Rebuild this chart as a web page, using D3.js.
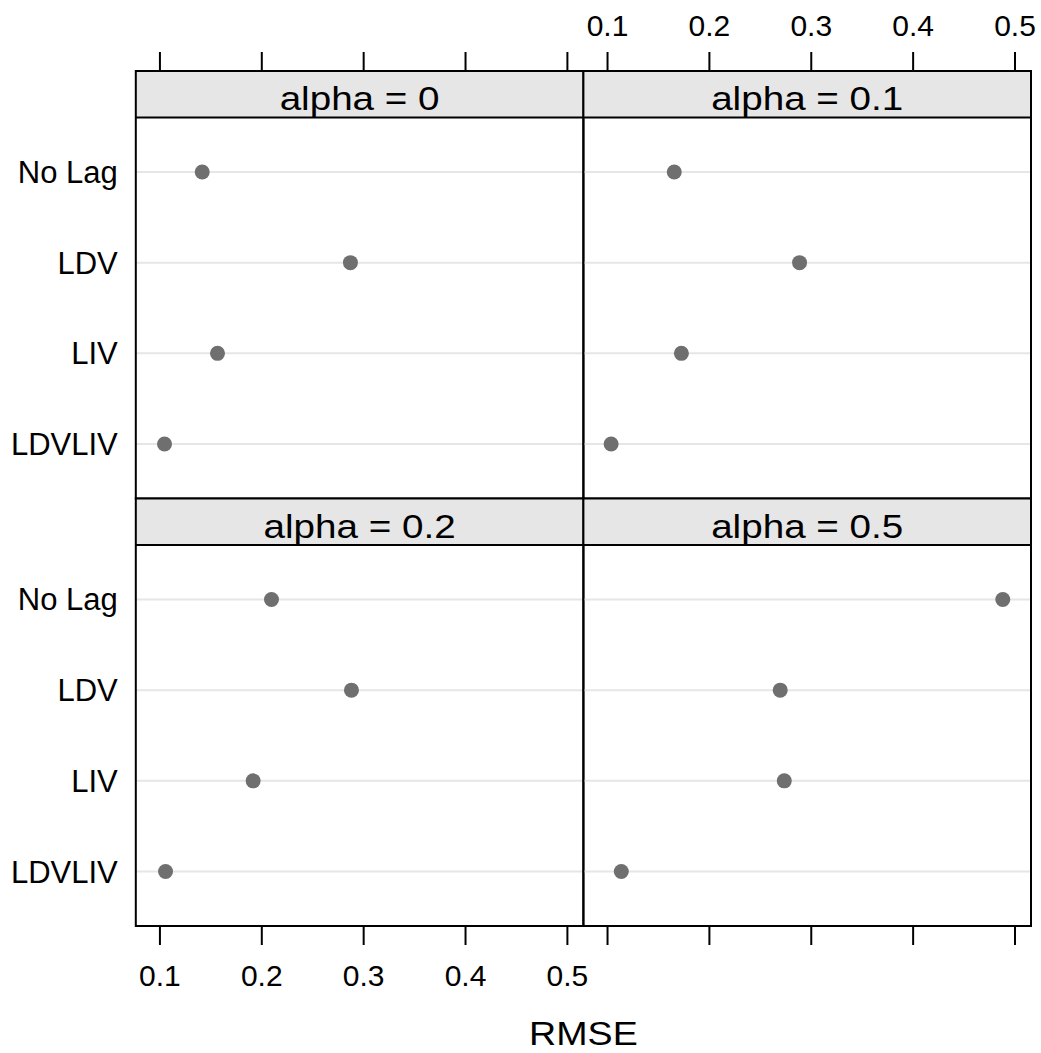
<!DOCTYPE html>
<html>
<head>
<meta charset="utf-8">
<script src="https://cdn.jsdelivr.net/npm/d3@7"></script>
<style>
  body { margin: 0; background: #fff; }
  text { font-family: "Liberation Sans", Arial, sans-serif; fill: #000; }
</style>
</head>
<body>
<script>
const W = 1041, H = 1053

// data
const methods = ['No Lag', 'LDV', 'LIV', 'LDVLIV']
const alphas = ['alpha = 0', 'alpha = 0.1', 'alpha = 0.2', 'alpha = 0.5']
const rmseA0 = [0.142, 0.2875, 0.157, 0.105]
const rmseA01 = [0.166, 0.289, 0.173, 0.104]
const rmseA02 = [0.210, 0.2885, 0.192, 0.106]
const rmseA05 = [0.4885, 0.270, 0.274, 0.114]
const xTicks = [0.1, 0.2, 0.3, 0.4, 0.5]

const series = [rmseA0, rmseA01, rmseA02, rmseA05]

const m = {
    left: 135.8,
    top: 71,
    panelW: 447.6,
    stripH: 46.5,
    bodyH: 381,
    tick: 19
}
const rowH = m.stripH + m.bodyH

const svg = d3.select('body').append('svg')
    .attr('width', W)
    .attr('height', H)

const x = d3.scaleLinear()
    .domain([0.0768, 0.5162])
    .range([0, m.panelW])

const y = d3.scalePoint()
    .domain(methods)
    .range([0, m.bodyH])
    .padding(0.6)

alphas.forEach((label, i) => {
    const col = i % 2, row = Math.floor(i / 2)
    const px = m.left + col * m.panelW
    const py = m.top + row * rowH

    const g = svg.append('g').attr('transform', `translate(${px},${py})`)

    // strip
    g.append('rect')
        .attr('width', m.panelW)
        .attr('height', m.stripH)
        .attr('fill', '#e6e6e6')
    g.append('text')
        .attr('transform', `translate(${m.panelW / 2},39) scale(1.17,1)`)
        .attr('text-anchor', 'middle')
        .style('font-size', '33px')
        .text(label)

    const body = g.append('g').attr('transform', `translate(0,${m.stripH})`)

    // light reference lines
    body.selectAll('.ref')
        .data(methods)
        .enter()
        .append('line')
            .attr('x1', 0)
            .attr('x2', m.panelW)
            .attr('y1', d => y(d))
            .attr('y2', d => y(d))
            .attr('stroke', '#e6e6e6')
            .attr('stroke-width', 2)

    body.selectAll('circle')
        .data(series[i].map((v, k) => ({ m: methods[k], v: v })))
        .enter()
        .append('circle')
            .attr('cx', d => x(d.v))
            .attr('cy', d => y(d.m))
            .attr('r', 7.5)
            .attr('fill', '#6f6f6f')

    // borders
    g.append('rect')
        .attr('width', m.panelW)
        .attr('height', rowH)
        .attr('fill', 'none')
        .attr('stroke', '#000')
        .attr('stroke-width', 2)
    g.append('line')
        .attr('x1', 0).attr('x2', m.panelW)
        .attr('y1', m.stripH).attr('y2', m.stripH)
        .attr('stroke', '#000')
        .attr('stroke-width', 2)

    // y labels on the left column
    if (col === 0) {
        body.selectAll('.ylab')
            .data(methods)
            .enter()
            .append('text')
                .attr('x', -18)
                .attr('y', d => y(d) + 11)
                .attr('text-anchor', 'end')
                .style('font-size', '31px')
                .text(d => d)
    }

    // x axes: top on first row, bottom on last row
    if (row === 0) {
        const ax = svg.append('g')
            .attr('transform', `translate(${px},${m.top})`)
            .call(d3.axisTop(x).tickValues(xTicks).tickSize(m.tick).tickPadding(16)
                .tickFormat(col === 1 ? d3.format('.1f') : ''))
        styleAxis(ax)
    }
    if (row === 1) {
        const ax = svg.append('g')
            .attr('transform', `translate(${px},${m.top + 2 * rowH})`)
            .call(d3.axisBottom(x).tickValues(xTicks).tickSize(m.tick).tickPadding(20)
                .tickFormat(col === 0 ? d3.format('.1f') : ''))
        styleAxis(ax)
    }
})

function styleAxis(ax) {
    ax.select('.domain').remove()
    ax.selectAll('line').attr('stroke', '#000').attr('stroke-width', 2)
    ax.selectAll('text')
        .style('font-size', '30px')
        .style('font-family', '"Liberation Sans", Arial, sans-serif')
        .attr('fill', '#000')
}

svg.append('text')
    .attr('transform', `translate(${m.left + m.panelW},1045) scale(1.14,1)`)
    .attr('text-anchor', 'middle')
    .style('font-size', '33px')
    .text('RMSE')
</script>
</body>
</html>
